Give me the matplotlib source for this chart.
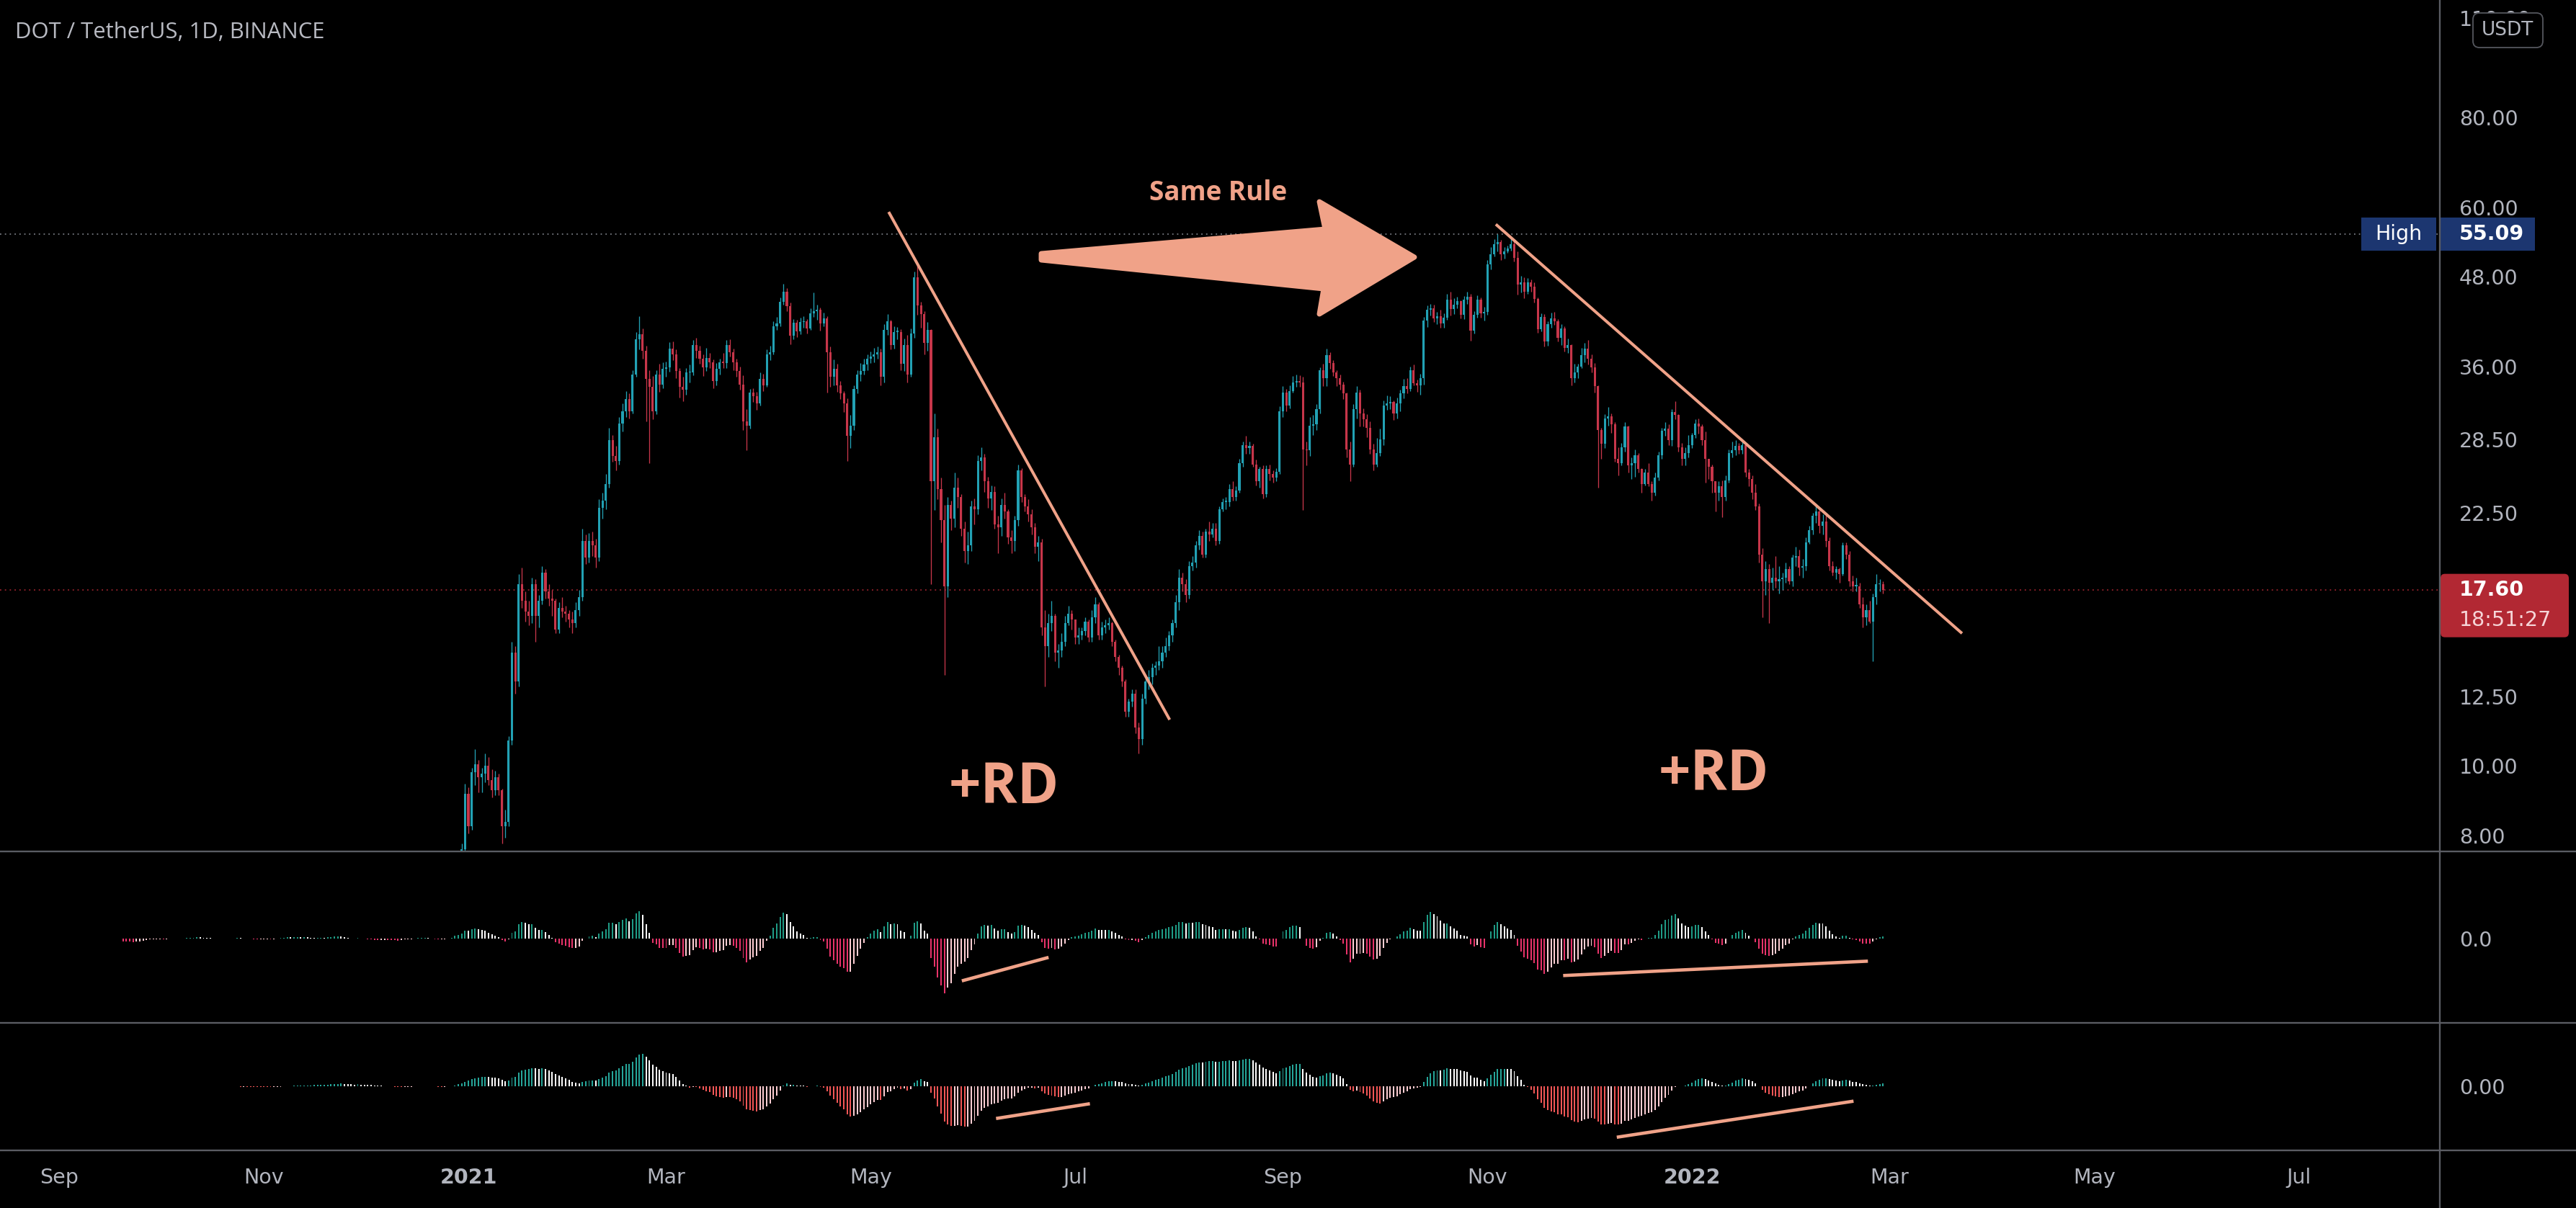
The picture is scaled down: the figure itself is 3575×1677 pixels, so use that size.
import numpy as np
import pandas as pd
import matplotlib
matplotlib.use("Agg")
import matplotlib.pyplot as plt
import matplotlib.dates as mdates
from matplotlib import font_manager
from matplotlib.patches import Rectangle, Polygon, FancyBboxPatch
from matplotlib.lines import Line2D
from matplotlib.transforms import IdentityTransform, blended_transform_factory

# ---------------- data (DOT/USDT daily) ----------------
first_day = "2020-08-18"
open_first = 2.70
close_px = [
    # 2020-08 (from 18th)
    2.90, 4.15, 4.90, 4.60, 5.10, 5.00, 5.35, 5.05, 5.45, 5.30, 5.80, 6.05, 6.25, 5.95,
    # 2020-09
    6.40, 5.60, 4.55, 4.85, 4.30, 4.70, 4.45, 4.75, 5.00, 5.15, 5.05, 4.75, 5.00, 5.05, 4.95,
    5.10, 4.65, 4.55, 4.60, 4.35, 4.20, 4.05, 3.85, 4.15, 4.10, 4.15, 4.40, 4.30, 4.30, 4.20,
    # 2020-10
    4.15, 4.05, 4.10, 4.15, 4.20, 4.00, 4.05, 4.15, 4.35, 4.35, 4.40, 4.50, 4.35, 4.30, 4.25,
    4.20, 4.15, 4.20, 4.20, 4.10, 4.30, 4.30, 4.30, 4.35, 4.30, 4.25, 4.15, 3.95, 3.90, 3.85, 4.00,
    # 2020-11
    3.95, 3.95, 3.80, 3.90, 4.10, 4.45, 4.45, 4.55, 4.40, 4.50, 4.65, 4.60, 4.70, 4.55, 4.55,
    4.65, 4.75, 4.85, 4.85, 5.15, 5.35, 5.30, 5.70, 5.60, 5.10, 4.90, 5.05, 5.30, 5.60, 5.20,
    # 2020-12
    5.25, 5.20, 5.20, 4.95, 5.05, 5.15, 5.10, 4.85, 4.95, 4.80, 4.75, 4.95, 5.20, 5.15, 5.10,
    5.40, 5.50, 5.55, 5.50, 5.30, 5.15, 5.00, 4.75, 5.05, 5.35, 5.45, 5.90, 6.80, 7.00, 7.65, 9.15,
    # 2021-01
    8.25, 9.80, 10.05, 9.65, 9.75, 10.00, 9.55, 9.25, 9.65, 9.25, 8.25, 8.35, 10.85, 14.40, 13.10,
    17.90, 17.00, 16.40, 16.20, 17.90, 16.20, 17.00, 18.60, 17.50, 17.10, 17.00, 15.50, 16.60, 16.40, 16.30, 16.00,
    # 2021-02
    15.80, 16.50, 17.20, 20.60, 19.50, 20.60, 20.30, 19.50, 22.90, 23.40, 24.70, 28.40, 27.00, 26.60,
    30.00, 31.20, 32.40, 31.20, 35.10, 39.30, 39.90, 37.90, 34.60, 33.70, 31.20, 35.10, 34.00, 35.70,
    # 2021-03
    35.90, 38.10, 37.40, 35.50, 33.70, 33.40, 35.30, 35.30, 38.60, 37.90, 36.90, 35.90, 37.00, 36.50, 34.40,
    35.70, 36.50, 36.40, 38.60, 37.70, 36.50, 35.50, 34.00, 30.20, 29.80, 33.10, 32.70, 32.00, 34.60, 33.90, 37.40,
    # 2021-04
    37.70, 41.00, 41.30, 44.30, 45.80, 43.70, 39.70, 41.40, 40.30, 41.50, 41.60, 40.70, 42.70, 43.00, 43.20,
    41.30, 42.00, 37.70, 34.80, 35.70, 33.90, 33.00, 32.00, 28.80, 29.80, 33.50, 35.10, 35.50, 36.20, 36.90,
    # 2021-05
    37.20, 37.40, 37.70, 34.80, 40.50, 41.60, 38.60, 40.20, 40.20, 36.30, 38.60, 35.10, 40.00, 47.90, 43.80,
    42.60, 38.80, 40.50, 24.90, 28.70, 24.30, 22.00, 17.80, 23.10, 22.10, 24.40, 23.70, 21.40, 19.90, 20.30, 23.00,
    # 2021-06
    22.80, 26.60, 26.90, 24.90, 23.60, 24.10, 21.70, 21.50, 23.10, 22.60, 20.80, 20.60, 22.00, 25.80, 23.70,
    23.00, 22.40, 21.50, 20.20, 20.50, 15.60, 14.70, 15.80, 16.20, 14.40, 14.50, 14.90, 15.80, 16.30, 16.00,
    # 2021-07
    15.10, 15.20, 15.40, 15.90, 15.10, 16.10, 16.80, 15.20, 15.60, 15.70, 15.80, 14.90, 14.20, 13.70, 13.10,
    11.90, 12.30, 12.60, 11.30, 10.90, 12.40, 13.10, 13.30, 13.70, 13.80, 14.00, 14.40, 14.70, 15.20, 15.80, 16.90,
    # 2021-08
    18.30, 17.90, 17.30, 19.00, 19.20, 20.30, 20.90, 19.70, 21.20, 21.00, 21.40, 20.60, 22.80, 23.30, 23.30,
    24.30, 23.70, 24.20, 26.40, 28.00, 27.70, 27.90, 26.30, 24.90, 25.90, 23.90, 25.90, 25.50, 25.20, 25.70, 31.20,
    # 2021-09
    33.10, 31.80, 33.30, 34.20, 34.30, 34.20, 27.60, 27.50, 29.80, 29.90, 31.40, 35.60, 34.70, 37.30, 36.40,
    35.30, 34.70, 34.00, 33.00, 27.60, 26.30, 31.40, 33.10, 31.00, 30.40, 29.60, 27.60, 26.30, 27.30, 28.50,
    # 2021-10
    31.80, 32.00, 32.10, 31.00, 32.00, 33.00, 33.80, 33.50, 35.60, 34.10, 33.90, 34.70, 41.70, 43.20, 43.40,
    42.00, 42.30, 41.30, 42.10, 44.60, 43.30, 43.90, 44.40, 42.50, 44.60, 45.00, 40.40, 42.50, 44.60, 42.70, 42.90,
    # 2021-11
    50.00, 51.60, 53.30, 53.60, 51.60, 52.10, 52.60, 53.30, 51.00, 46.80, 47.20, 45.80, 47.10, 46.50, 44.70,
    40.60, 42.20, 39.00, 41.20, 42.00, 41.60, 39.50, 40.70, 38.20, 38.60, 34.70, 35.30, 36.00, 37.30, 38.10,
    # 2021-12
    36.90, 35.90, 33.80, 29.40, 28.10, 30.50, 30.70, 29.90, 26.80, 26.40, 27.80, 29.70, 26.20, 26.40, 27.10,
    25.90, 24.70, 25.60, 24.70, 24.00, 25.20, 27.10, 29.30, 29.50, 28.40, 31.10, 30.80, 27.80, 26.80, 27.30, 28.00,
    # 2022-01
    28.90, 30.00, 29.70, 28.40, 26.80, 26.10, 24.90, 24.00, 24.50, 23.70, 25.00, 27.30, 27.50, 27.90, 27.50,
    28.00, 25.60, 25.10, 24.00, 23.00, 19.70, 18.10, 18.80, 18.00, 18.30, 18.10, 18.20, 18.30, 18.80, 18.10, 19.50,
    # 2022-02 (to 27th)
    19.60, 18.90, 19.00, 20.50, 21.30, 22.30, 22.60, 21.60, 21.90, 20.60, 19.00, 18.60, 18.80, 18.50,
    20.30, 19.70, 18.10, 17.80, 17.80, 16.80, 16.10, 16.50, 15.90, 17.20, 17.90, 17.90, 17.60,
]

# highs / lows from 2020-12-25 on (earlier candles sit below the visible price range)
high_px = [
    5.45, 5.60, 6.10, 6.95, 7.35, 7.80, 9.45,
    9.35, 9.95, 10.55, 10.20, 9.95, 10.40, 10.30, 9.90, 9.85, 9.75, 9.30, 8.70, 11.00, 14.90, 14.70,
    18.50, 18.90, 17.50, 17.00, 18.30, 18.20, 17.30, 19.00, 18.80, 17.90, 17.60, 17.10, 16.90, 17.20, 16.70, 16.50,
    16.40, 16.90, 17.60, 21.40, 21.00, 21.10, 21.20, 20.70, 23.50, 24.00, 25.50, 29.60, 28.90, 27.90,
    30.60, 32.00, 33.30, 33.00, 35.60, 40.20, 42.30, 40.70, 38.50, 35.60, 34.90, 35.60, 36.30, 36.50,
    36.60, 38.90, 39.00, 38.00, 35.80, 34.80, 35.80, 36.20, 39.20, 39.50, 38.50, 37.40, 38.20, 37.60, 36.80,
    36.40, 36.90, 37.60, 39.20, 39.30, 38.10, 36.90, 36.00, 35.00, 31.40, 33.50, 33.60, 33.20, 35.30, 35.20, 38.00,
    38.50, 41.60, 42.20, 44.90, 46.90, 46.30, 44.20, 41.90, 41.80, 42.10, 42.30, 41.90, 43.40, 45.60, 43.90,
    43.50, 42.80, 42.30, 38.40, 36.80, 36.30, 34.40, 33.30, 32.50, 30.80, 33.90, 35.60, 36.40, 36.90, 37.40,
    37.80, 38.20, 38.40, 38.10, 41.20, 42.60, 41.80, 41.00, 40.90, 40.60, 39.40, 39.80, 40.70, 48.80, 49.80,
    44.30, 43.00, 41.50, 40.60, 31.00, 29.50, 25.20, 23.10, 23.70, 23.40, 25.60, 25.20, 23.90, 21.90, 21.20, 23.40,
    23.60, 27.10, 27.80, 27.20, 25.30, 24.60, 24.50, 22.30, 23.60, 24.00, 22.80, 21.30, 22.30, 26.30, 26.00,
    23.90, 23.50, 22.80, 21.80, 20.90, 20.70, 16.50, 16.30, 17.00, 16.30, 14.80, 15.30, 16.20, 16.70, 16.50,
    16.00, 15.60, 15.60, 16.10, 16.00, 16.50, 17.20, 16.90, 15.90, 16.00, 16.10, 15.90, 15.00, 14.30, 13.80,
    13.20, 12.40, 12.80, 12.80, 11.50, 12.60, 13.30, 13.60, 13.90, 14.00, 14.70, 14.70, 15.10, 15.40, 16.00, 17.30,
    18.80, 18.60, 18.20, 19.30, 19.60, 20.60, 21.30, 21.20, 21.40, 21.90, 21.80, 21.80, 23.00, 23.60, 23.70,
    24.70, 24.90, 24.50, 26.80, 28.30, 28.80, 28.30, 28.10, 26.70, 26.10, 26.20, 26.20, 26.30, 25.80, 26.00, 31.70,
    33.80, 33.50, 33.90, 34.90, 35.10, 35.00, 34.80, 28.30, 30.60, 30.80, 31.90, 35.90, 36.30, 38.10, 37.70,
    36.70, 35.60, 35.10, 34.30, 33.10, 28.30, 31.90, 33.80, 33.40, 31.50, 30.90, 30.20, 28.10, 28.60, 29.50,
    32.30, 32.80, 32.70, 32.30, 32.60, 33.40, 34.60, 34.70, 36.00, 36.20, 34.50, 35.20, 42.20, 43.80, 44.00,
    43.90, 42.90, 43.20, 42.70, 45.40, 45.80, 44.80, 45.00, 44.50, 45.10, 45.80, 45.40, 43.00, 45.20, 44.90, 43.60,
    50.60, 52.80, 54.20, 55.09, 54.00, 52.80, 53.10, 54.40, 53.80, 52.10, 48.10, 47.90, 47.80, 47.60, 47.20,
    44.90, 42.70, 42.60, 41.60, 42.80, 42.90, 41.90, 41.20, 41.00, 39.40, 38.70, 36.30, 36.30, 38.20, 38.80,
    39.20, 37.40, 36.40, 33.90, 29.60, 30.90, 31.60, 31.00, 30.10, 27.80, 28.20, 30.10, 29.80, 26.90, 27.60,
    27.30, 26.00, 25.90, 26.40, 24.90, 25.60, 27.40, 29.60, 30.10, 29.90, 31.40, 32.20, 30.90, 28.20, 27.80, 28.90,
    29.10, 30.40, 30.50, 29.90, 29.20, 26.80, 26.30, 24.90, 24.90, 25.00, 25.40, 27.60, 28.30, 28.40, 28.20,
    28.50, 28.10, 25.90, 25.40, 24.70, 23.20, 20.10, 19.30, 19.10, 18.90, 19.60, 19.00, 18.60, 19.20, 19.00, 19.70,
    20.20, 20.00, 19.40, 20.80, 21.60, 22.50, 23.20, 22.90, 22.40, 22.50, 20.80, 19.30, 19.00, 18.90,
    20.50, 20.50, 19.90, 18.40, 18.30, 18.00, 17.20, 16.80, 17.00, 17.40, 18.50, 18.20, 18.10,
]
low_px = [
    4.95, 5.25, 5.35, 5.80, 6.55, 6.90, 7.55,
    8.05, 8.15, 9.40, 9.20, 9.20, 9.50, 9.40, 9.05, 9.10, 9.10, 7.80, 7.95, 8.25, 10.70, 12.60,
    12.90, 16.60, 15.90, 15.70, 15.80, 14.90, 15.60, 16.80, 17.10, 16.70, 16.20, 15.30, 15.30, 16.10, 15.90, 15.60,
    15.30, 15.60, 16.20, 17.00, 19.10, 19.20, 19.60, 18.90, 19.30, 22.10, 22.80, 24.40, 26.50, 25.80,
    26.30, 29.20, 30.60, 30.50, 31.00, 34.80, 38.00, 36.90, 30.20, 26.40, 30.40, 30.90, 33.20, 33.60,
    34.80, 35.40, 36.70, 34.70, 32.60, 32.20, 32.90, 34.20, 35.00, 37.00, 36.30, 34.90, 35.50, 35.80, 33.60,
    33.90, 35.10, 35.80, 35.80, 37.20, 35.60, 34.80, 33.40, 29.40, 27.50, 29.50, 32.10, 31.30, 31.80, 33.30, 33.70,
    36.70, 37.40, 40.50, 41.00, 43.90, 43.00, 38.70, 39.30, 39.60, 39.90, 40.80, 40.00, 40.50, 42.20, 41.80,
    40.40, 41.00, 33.10, 33.70, 33.90, 33.20, 32.40, 31.10, 26.60, 27.70, 29.40, 33.00, 34.40, 35.10, 35.60,
    36.40, 36.50, 36.90, 33.90, 34.20, 39.80, 38.00, 38.10, 39.30, 35.60, 35.50, 34.20, 34.80, 39.50, 42.50,
    40.80, 37.40, 37.90, 17.90, 22.70, 23.50, 20.50, 13.40, 17.20, 21.30, 21.50, 22.90, 20.90, 19.20, 19.10, 19.90,
    21.70, 22.40, 25.80, 24.10, 22.90, 22.70, 21.40, 19.80, 20.90, 22.10, 20.40, 19.80, 19.90, 21.60, 23.30,
    22.60, 21.90, 21.00, 19.80, 19.30, 15.20, 12.90, 14.20, 15.40, 14.00, 13.70, 14.20, 14.70, 15.70, 15.50,
    14.80, 14.80, 15.00, 15.20, 14.90, 14.90, 15.80, 15.00, 15.00, 15.30, 15.50, 14.70, 14.00, 13.40, 12.90,
    11.70, 11.70, 12.10, 11.10, 10.40, 10.70, 12.20, 12.80, 13.00, 13.40, 13.60, 13.70, 14.20, 14.50, 14.90, 15.60,
    16.50, 17.50, 16.90, 17.10, 18.70, 18.90, 20.00, 19.50, 19.50, 20.60, 20.80, 20.30, 20.40, 22.60, 22.80,
    23.00, 23.40, 23.40, 24.00, 26.10, 27.20, 27.20, 26.10, 24.60, 24.40, 23.60, 23.70, 25.00, 24.80, 24.90, 25.50,
    30.60, 31.20, 31.50, 33.10, 33.70, 33.70, 22.70, 26.20, 27.00, 28.90, 29.40, 31.00, 33.80, 33.80, 35.70,
    34.90, 33.80, 33.40, 32.40, 26.90, 24.90, 26.10, 30.50, 29.70, 29.70, 28.70, 27.20, 25.80, 26.10, 27.00,
    28.00, 31.30, 31.40, 30.30, 30.50, 31.20, 32.50, 33.00, 33.30, 33.90, 33.20, 32.90, 34.00, 40.90, 42.40,
    41.50, 41.20, 40.80, 40.80, 41.80, 42.40, 42.60, 43.40, 42.00, 41.90, 44.00, 39.10, 40.00, 42.10, 42.10, 41.70,
    42.50, 49.10, 51.20, 52.10, 50.70, 50.90, 51.80, 52.20, 50.40, 45.30, 45.60, 44.80, 45.40, 45.80, 44.20,
    40.10, 40.30, 38.40, 38.50, 40.80, 41.10, 39.00, 38.60, 37.80, 37.60, 33.90, 34.20, 34.70, 35.80, 36.50,
    36.20, 35.30, 33.10, 24.40, 26.80, 27.70, 29.80, 29.10, 26.50, 25.40, 26.20, 27.40, 25.60, 25.10, 25.30,
    25.60, 24.00, 24.60, 24.50, 23.40, 23.80, 25.00, 26.80, 28.80, 28.00, 27.90, 30.40, 27.40, 26.20, 26.20, 26.90,
    27.70, 28.60, 29.00, 28.00, 24.80, 25.10, 24.00, 22.60, 23.40, 22.20, 23.40, 24.80, 26.90, 27.10, 27.20,
    27.20, 25.30, 24.50, 23.50, 22.70, 19.20, 16.10, 17.30, 15.80, 17.60, 17.70, 17.40, 17.60, 18.00, 17.90, 17.80,
    19.00, 18.40, 18.30, 18.70, 20.40, 21.00, 21.80, 21.10, 21.00, 20.20, 18.70, 18.40, 18.20, 18.00,
    18.40, 19.40, 17.80, 17.50, 17.50, 16.60, 15.60, 15.70, 15.80, 14.00, 16.80, 17.50, 17.40,
]

price_ticks = [8, 10, 12.5, 22.5, 28.5, 36, 48, 60, 80, 110]
price_labels = ["8.00", "10.00", "12.50", "22.50", "28.50", "36.00", "48.00", "60.00", "80.00", "110.00"]
month_ticks = ["2020-09-01", "2020-11-01", "2021-01-01", "2021-03-01", "2021-05-01", "2021-07-01",
               "2021-09-01", "2021-11-01", "2022-01-01", "2022-03-01", "2022-05-01", "2022-07-01"]
month_labels = ["Sep", "Nov", "2021", "Mar", "May", "Jul", "Sep", "Nov", "2022", "Mar", "May", "Jul"]

last_price = 17.60
countdown = "18:51:27"
high_price = 55.09

# drawings anchored in time / price
trend_1 = [("2021-05-06 09:00", 59.1), ("2021-07-29 05:00", 11.6)]
trend_2 = [("2021-11-03 12:00", 56.8), ("2022-03-22 14:00", 15.3)]
rd_labels = [("2021-06-09 18:00", 8.88), ("2022-01-07 12:00", 9.25)]
same_rule_at = ("2021-08-12 14:00", 61.4)
# divergence lines on the oscillators (time, fraction of pane height)
osc1_lines = [[("2021-05-28 05:00", 0.245), ("2021-06-23 02:00", 0.382)],
              [("2021-11-23 14:00", 0.276), ("2022-02-22 12:00", 0.360)]]
osc2_lines = [[("2021-06-07 10:00", 0.250), ("2021-07-05 10:00", 0.366)],
              [("2021-12-09 14:00", 0.103), ("2022-02-18 05:00", 0.386)]]

# ---------------- style ----------------
W, H = 3575, 1677
BG = "#000000"
UP, DN = "#22a1b4", "#c7364a"
SALMON = "#f0a288"
AXTXT = "#b2b5be"
SEP = "#5a5c63"

avail = {f.name for f in font_manager.fontManager.ttflist}
ANNO_FONT = "Open Sans" if "Open Sans" in avail else "DejaVu Sans"
TITLE_FONT = "Open Sans" if "Open Sans" in avail else "DejaVu Sans"

fig = plt.figure(figsize=(W / 100, H / 100), dpi=100, facecolor=BG)


def rect(top, bottom):
    return [0, 1 - bottom / H, 3386 / W, (bottom - top) / H]


ax = fig.add_axes(rect(0, 1182))
ax1 = fig.add_axes(rect(1182, 1420), sharex=ax)
ax2 = fig.add_axes(rect(1420, 1597), sharex=ax)
for a in (ax, ax1, ax2):
    a.set_facecolor(BG)
    for s in a.spines.values():
        s.set_visible(False)
    a.yaxis.tick_right()
    a.tick_params(axis="y", length=0, pad=19.5, labelcolor=AXTXT, labelsize=20.5)
    a.tick_params(axis="x", length=0)

# ---------------- candles ----------------
dates = pd.date_range(first_day, periods=len(close_px), freq="D")
close = np.array(close_px)
opens = np.r_[open_first, close[:-1]]
n = len(high_px)
xd = mdates.date2num(dates[-n:])
o, c = opens[-n:], close[-n:]
hi = np.maximum(np.array(high_px), np.maximum(o, c))
lo = np.minimum(np.array(low_px), np.minimum(o, c))
col = np.where(c >= o, UP, DN)
ax.vlines(xd, lo, hi, colors=col, linewidth=0.95, zorder=2)
body = np.maximum(np.abs(c - o), c * 0.004)
ax.bar(xd, body, bottom=np.minimum(o, c), width=0.66, color=col, linewidth=0, zorder=3)

ax.set_yscale("log")
ax.set_ylim(7.604, 116.6)
ax.set_yticks(price_ticks)
ax.set_yticklabels(price_labels)
ax.yaxis.set_minor_locator(matplotlib.ticker.NullLocator())
ax.set_xlim(mdates.date2num(pd.Timestamp("2020-08-14 06:45")),
            mdates.date2num(pd.Timestamp("2022-08-12 02:30")))

# high / last price guides
ax.axhline(high_price, color="#8a8d96", linestyle=(0, (1.2, 3.2)), linewidth=1.1, zorder=1)
ax.axhline(last_price, color="#b22833", linestyle=(0, (1.2, 3.2)), linewidth=1.1, zorder=1)

# trend lines
for seg in (trend_1, trend_2):
    xs = [mdates.date2num(pd.Timestamp(t)) for t, _ in seg]
    ys = [p for _, p in seg]
    ax.plot(xs, ys, color=SALMON, linewidth=2.9, solid_capstyle="butt", zorder=5)

for t, p in rd_labels:
    ax.text(mdates.date2num(pd.Timestamp(t)), p, "+RD", color=SALMON, fontsize=56,
            fontweight="bold", family=ANNO_FONT, ha="center", va="baseline", zorder=6)
ax.text(mdates.date2num(pd.Timestamp(same_rule_at[0])), same_rule_at[1], "Same Rule",
        color=SALMON, fontsize=26.5, fontweight="bold", family=ANNO_FONT,
        ha="center", va="baseline", zorder=6)

# fat arrow (axes fraction of the price pane)
arrow_pts = [(1445, 352), (1839, 318), (1831, 280), (1963, 357), (1831, 436), (1837, 401), (1445, 361)]
arrow_xy = [(x / 3386, 1 - y / 1182) for x, y in arrow_pts]
ax.add_patch(Polygon(arrow_xy, closed=True, transform=ax.transAxes, facecolor=SALMON,
                     edgecolor=SALMON, linewidth=5, joinstyle="round", zorder=6))

# ---------------- oscillators (MACD histograms) ----------------
s = pd.Series(close)


def macd_hist(fast, slow, sig):
    m = s.ewm(span=fast, adjust=False).mean() - s.ewm(span=slow, adjust=False).mean()
    return (m - m.ewm(span=sig, adjust=False).mean()).to_numpy()


def hist_colors(h, up, up_fall, dn_rise, dn):
    out = []
    for i, v in enumerate(h):
        prev = h[i - 1] if i > 0 else np.nan
        if v >= 0:
            out.append(up if (np.isnan(prev) or v > prev) else up_fall)
        else:
            out.append(dn_rise if (not np.isnan(prev) and v > prev) else dn)
    return out


xall = mdates.date2num(dates)
for a, (fast, slow, sig), start, cols, (above, below, zero_px) in (
        (ax1, (12, 26, 9), 33, ("#1f9c86", "#ffffff", "#ffcdd2", "#e8336a"), (121, 117, 76)),
        (ax2, (24, 52, 18), 68, ("#26a69a", "#ffffff", "#ffcdd2", "#f25656"), (88, 89, 56))):
    h = macd_hist(fast, slow, sig)[start:]
    a.bar(xall[start:], h, width=0.42, color=hist_colors(h, *cols), linewidth=0)
    hmin = abs(np.nanmin(h))
    a.set_ylim(-hmin * below / zero_px, hmin * above / zero_px)

ax1.set_yticks([0])
ax1.set_yticklabels(["0.0"])
ax2.set_yticks([0])
ax2.set_yticklabels(["0.00"])

for a, lines in ((ax1, osc1_lines), (ax2, osc2_lines)):
    tr = blended_transform_factory(a.transData, a.transAxes)
    for seg in lines:
        xs = [mdates.date2num(pd.Timestamp(t)) for t, _ in seg]
        ys = [f for _, f in seg]
        a.add_line(Line2D(xs, ys, transform=tr, color=SALMON, linewidth=3.3,
                          solid_capstyle="butt", zorder=5))

# date axis
plt.setp(ax.get_xticklabels(), visible=False)
plt.setp(ax1.get_xticklabels(), visible=False)
ax2.set_xticks([mdates.date2num(pd.Timestamp(t)) for t in month_ticks])
ax2.set_xticklabels(month_labels)
ax2.tick_params(axis="x", pad=17, labelcolor=AXTXT, labelsize=20.5)
for lab in ax2.get_xticklabels():
    if lab.get_text().isdigit():
        lab.set_fontweight("bold")

# ---------------- pane separators & overlays (pixel space) ----------------
I = IdentityTransform()
for yy in (1182, 1420, 1597):
    fig.add_artist(Line2D([0, W], [H - yy, H - yy], transform=I, color=SEP, linewidth=1.7))
fig.add_artist(Line2D([3386, 3386], [0, H], transform=I, color=SEP, linewidth=1.7))


def price_y(p):
    return ax.transData.transform((ax.get_xlim()[0], p))[1]


fig.canvas.draw()
yh = price_y(high_price)
fig.add_artist(Rectangle((3277, yh - 23), 104, 46, transform=I, facecolor="#1c3670", edgecolor="none"))
fig.add_artist(Rectangle((3387, yh - 23), 131, 46, transform=I, facecolor="#1c3670", edgecolor="none"))
fig.text(3329, yh, "High", transform=I, color="white", fontsize=20.5, ha="center", va="center")
fig.text(3413, yh, f"{high_price:.2f}", transform=I, color="white", fontsize=20.5,
         fontweight="bold", ha="left", va="center")

yl = price_y(last_price)
fig.add_artist(FancyBboxPatch((3387, yl - 66), 178, 88, boxstyle="round,pad=0,rounding_size=6",
                              transform=I, facecolor="#b22833", edgecolor="none"))
fig.text(3413, yl, f"{last_price:.2f}", transform=I, color="white", fontsize=20.5,
         fontweight="bold", ha="left", va="center")
fig.text(3413, yl - 42, countdown, transform=I, color="#f6d5d8", fontsize=20.5,
         ha="left", va="center")

fig.add_artist(FancyBboxPatch((3432, H - 66), 97, 48, boxstyle="round,pad=0,rounding_size=9",
                              transform=I, facecolor=BG, edgecolor="#55575e", linewidth=1.3))
fig.text(3480, H - 42, "USDT", transform=I, color=AXTXT, fontsize=19, ha="center", va="center")

fig.text(21, H - 53, "DOT / TetherUS, 1D, BINANCE", transform=I, color="#b8bac2",
         fontsize=22.3, family=TITLE_FONT, ha="left", va="baseline")

fig.savefig("out.png", dpi=100, facecolor=BG)
